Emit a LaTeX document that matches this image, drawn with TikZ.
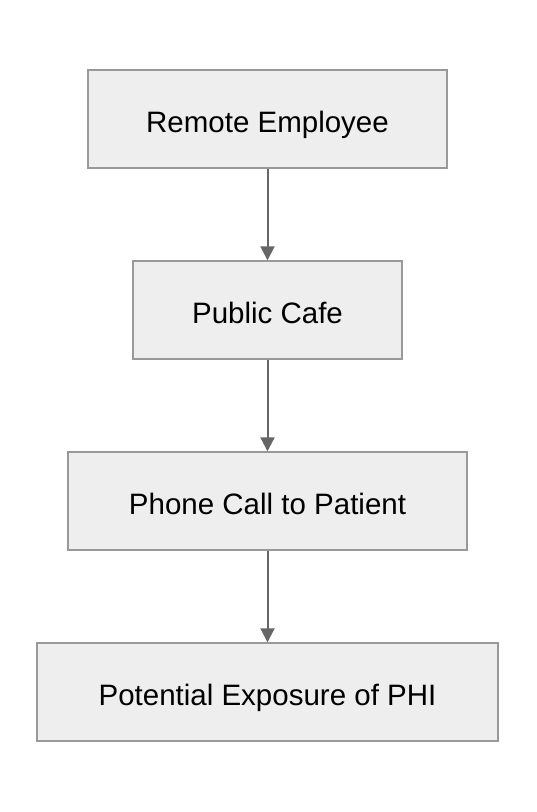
\documentclass[tikz,border=0pt]{standalone}
\usepackage{fontspec}
\setmainfont{Liberation Sans}
\usepackage{tikz}
\usepackage{xcolor}
\usetikzlibrary{arrows.meta}
\definecolor{BoxFill}{HTML}{EEEEEE}
\definecolor{BoxLine}{HTML}{999999}
\definecolor{ArrowGray}{HTML}{666666}

\begin{document}
\begin{tikzpicture}[x=1pt, y=-1pt,
    flowbox/.style={rectangle, fill=BoxFill, draw=BoxLine, line width=1.4pt,
          minimum height=98pt, inner sep=0pt, text height=26pt, text depth=0pt,
          font=\fontsize{29.5}{34}\selectfont},
    flowarrow/.style={draw=ArrowGray, line width=2pt,
          -{Triangle[length=14pt, width=14pt]}}]
    \useasboundingbox (0,0) rectangle (536,812);

    % Steps
    \node[flowbox, minimum width=359pt] (employee) at (267.5,119) {Remote Employee};
    \node[flowbox, minimum width=269pt] (cafe)     at (267.5,310) {Public Cafe};
    \node[flowbox, minimum width=399pt] (call)     at (267.5,501) {Phone Call to Patient};
    \node[flowbox, minimum width=461pt] (phi)      at (267.5,692) {Potential Exposure of PHI};

    % Flow
    \draw[flowarrow] (employee) -- (cafe);
    \draw[flowarrow] (cafe) -- (call);
    \draw[flowarrow] (call) -- (phi);
\end{tikzpicture}
\end{document}
